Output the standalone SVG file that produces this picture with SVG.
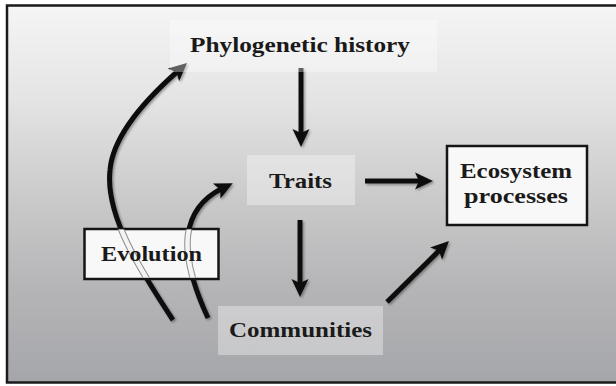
<svg xmlns="http://www.w3.org/2000/svg" width="616" height="386" viewBox="0 0 616 386">
  <style>
    .lbl { font-family: "Liberation Serif", "DejaVu Serif", serif; font-weight: bold; fill: #1a1a1a; text-anchor: middle; }
    .conn { fill: none; stroke: #111; stroke-width: 5; marker-end: url(#ah); filter: url(#sh); }
    .wbox { fill: #f8f8f8; stroke: #151515; stroke-width: 2.5; }
    .gbox { fill: #ffffff; fill-opacity: 0.35; }
    .ghost1 { fill: none; stroke: #8c8c8c; stroke-width: 6.5; }
    .ghost2 { fill: none; stroke: #f4f4f4; stroke-width: 4.5; }
  </style>
  <defs>
    <linearGradient id="bg" x1="0" y1="0" x2="0" y2="1">
      <stop offset="0" stop-color="#f5f5f5"/>
      <stop offset="0.25" stop-color="#e4e4e4"/>
      <stop offset="0.5" stop-color="#cbcbcc"/>
      <stop offset="0.75" stop-color="#b5b5b7"/>
      <stop offset="1" stop-color="#a5a6aa"/>
    </linearGradient>
    <marker id="ah" markerUnits="userSpaceOnUse" markerWidth="24" markerHeight="24" viewBox="-2 -10 24 20" refX="6" refY="0" orient="auto">
      <path d="M0,-8.5 L18,0 L0,8.5 L4,0 Z" fill="#111"/>
    </marker>
    <filter id="sh" filterUnits="userSpaceOnUse" x="0" y="0" width="616" height="386">
      <feDropShadow dx="1.5" dy="1.5" stdDeviation="1" flood-color="#000" flood-opacity="0.35"/>
    </filter>
    <clipPath id="evoClip">
      <rect x="85.5" y="229.5" width="132" height="48"/>
    </clipPath>
  </defs>

  <rect x="0" y="0" width="616" height="386" fill="#ffffff"/>
  <rect x="7" y="5.5" width="620" height="377" fill="url(#bg)" stroke="#1a1a1a" stroke-width="2.5"/>

  <g id="connectors">
    <path class="conn" d="M173,320 C140,270 105,215 110,170 C113,135 145,100 178,71"/>
    <path class="conn" d="M208,318 C195,290 185,260 188,235 C191,212 205,197 222,188.5"/>
    <path class="conn" d="M301,68 L301,135"/>
    <path class="conn" d="M300,220 L300,285"/>
    <path class="conn" d="M365,181 L421,181"/>
    <path class="conn" d="M387,302 L440.4,249.4"/>
  </g>

  <g id="phylogenetic-history">
    <rect class="gbox" x="170" y="20" width="267" height="52" fill-opacity="0.06"/>
    <text class="lbl" x="300" y="52" font-size="22" textLength="220" lengthAdjust="spacingAndGlyphs">Phylogenetic history</text>
  </g>

  <g id="traits">
    <rect class="gbox" x="247" y="155" width="108" height="50"/>
    <text class="lbl" x="300.5" y="188" font-size="22" textLength="63" lengthAdjust="spacingAndGlyphs">Traits</text>
  </g>

  <g id="communities">
    <rect class="gbox" x="218" y="306" width="165" height="49"/>
    <text class="lbl" x="300.5" y="337" font-size="22" textLength="143" lengthAdjust="spacingAndGlyphs">Communities</text>
  </g>

  <g id="ecosystem-processes">
    <rect class="wbox" x="447" y="146" width="140" height="79"/>
    <text class="lbl" x="516" y="178" font-size="22" textLength="112" lengthAdjust="spacingAndGlyphs">Ecosystem</text>
    <text class="lbl" x="516" y="203" font-size="22" textLength="104" lengthAdjust="spacingAndGlyphs">processes</text>
  </g>

  <g id="evolution">
    <rect class="wbox" x="84.5" y="229" width="134" height="50"/>
    <g clip-path="url(#evoClip)">
      <path class="ghost1" d="M173,320 C140,270 105,215 110,170"/>
      <path class="ghost2" d="M173,320 C140,270 105,215 110,170"/>
      <path class="ghost1" d="M208,318 C195,290 185,260 188,235 C191,212 205,197 222,188.5"/>
      <path class="ghost2" d="M208,318 C195,290 185,260 188,235 C191,212 205,197 222,188.5"/>
    </g>
    <text class="lbl" x="151.5" y="261" font-size="22" textLength="101" lengthAdjust="spacingAndGlyphs">Evolution</text>
  </g>
</svg>
